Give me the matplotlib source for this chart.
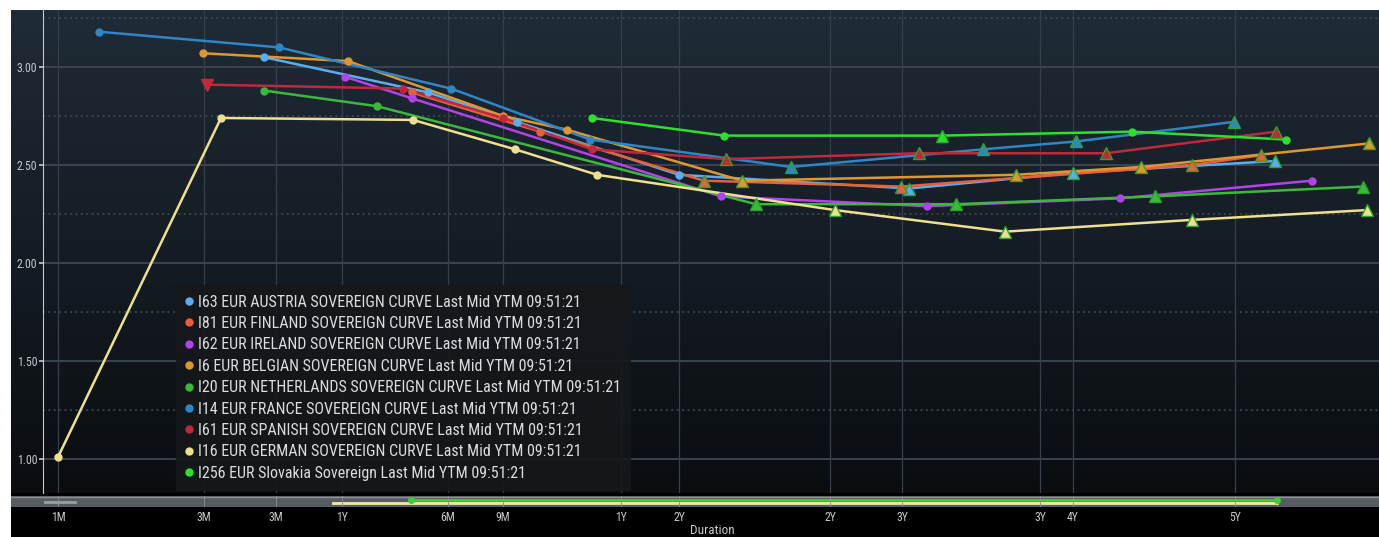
import numpy as np
import matplotlib
matplotlib.use("Agg")
import matplotlib.pyplot as plt
from matplotlib.lines import Line2D
from matplotlib.font_manager import FontProperties, fontManager

plt.rcParams['font.family'] = ['DejaVu Sans']

# duration axis positions (chart's own nonlinear duration scale) and yields
tick_pos = [58, 204, 276, 342, 448, 503, 621, 679, 830, 902, 1040, 1073, 1235]
tick_labels = ['1M', '3M', '3M', '1Y', '6M', '9M', '1Y', '2Y', '2Y', '3Y', '3Y', '4Y', '5Y']

austria_x = [264, 428, 517, 679, 909, 1073, 1275]
austria_y = [3.05, 2.87, 2.72, 2.45, 2.38, 2.46, 2.52]
finland_x = [412, 540, 704, 901, 1192, 1261]
finland_y = [2.87, 2.67, 2.42, 2.39, 2.50, 2.55]
ireland_x = [345, 412, 721, 927, 1120, 1312]
ireland_y = [2.95, 2.84, 2.34, 2.29, 2.33, 2.42]
belgian_x = [203, 348, 503, 567, 742, 1016, 1141, 1369]
belgian_y = [3.07, 3.03, 2.75, 2.68, 2.42, 2.45, 2.49, 2.61]
nl_x = [264, 377, 756, 956, 1155, 1363]
nl_y = [2.88, 2.80, 2.30, 2.30, 2.34, 2.39]
france_x = [99, 279, 451, 590, 791, 983, 1076, 1234]
france_y = [3.18, 3.10, 2.89, 2.63, 2.49, 2.58, 2.62, 2.72]
spanish_x = [207, 403, 503, 592, 726, 919, 1106, 1276]
spanish_y = [2.91, 2.89, 2.74, 2.58, 2.53, 2.56, 2.56, 2.67]
german_x = [58, 221, 413, 515, 597, 835, 1005, 1192, 1367]
german_y = [1.01, 2.74, 2.73, 2.58, 2.45, 2.27, 2.16, 2.22, 2.27]
slovakia_x = [592, 724, 942, 1132, 1286]
slovakia_y = [2.74, 2.65, 2.65, 2.67, 2.63]

series = [
    ('I63 EUR AUSTRIA SOVEREIGN CURVE Last Mid YTM 09:51:21', austria_x, austria_y, '#5aaef0'),
    ('I81 EUR FINLAND SOVEREIGN CURVE Last Mid YTM 09:51:21', finland_x, finland_y, '#e8603c'),
    ('I62 EUR IRELAND SOVEREIGN CURVE Last Mid YTM 09:51:21', ireland_x, ireland_y, '#b044e8'),
    ('I6 EUR BELGIAN SOVEREIGN CURVE Last Mid YTM 09:51:21', belgian_x, belgian_y, '#e0982e'),
    ('I20 EUR NETHERLANDS SOVEREIGN CURVE Last Mid YTM 09:51:21', nl_x, nl_y, '#3cb83c'),
    ('I14 EUR FRANCE SOVEREIGN CURVE Last Mid YTM 09:51:21', france_x, france_y, '#2f86c6'),
    ('I61 EUR SPANISH SOVEREIGN CURVE Last Mid YTM 09:51:21', spanish_x, spanish_y, '#c0283c'),
    ('I16 EUR GERMAN SOVEREIGN CURVE Last Mid YTM 09:51:21', german_x, german_y, '#eee08e'),
    ('I256 EUR Slovakia Sovereign Last Mid YTM 09:51:21', slovakia_x, slovakia_y, '#2ee02e'),
]

# range navigator under the chart
nav_yellow = (333, 1277)
nav_green = (411, 1277)

W, H = 1379, 537

# a narrow face if one is installed
names = {f.name for f in fontManager.ttflist}
narrow = None
for cand in ['Liberation Sans Narrow', 'DejaVu Sans Condensed', 'Roboto Condensed', 'Open Sans Condensed']:
    if cand in names:
        narrow = cand
        break
condensed = [f for f in fontManager.ttflist if f.name == 'DejaVu Sans' and f.stretch == 'condensed']
if narrow:
    leg_font = FontProperties(family=narrow, size=11.5)
    tick_font = FontProperties(family=narrow, size=8.5)
    dur_font = FontProperties(family=narrow, size=9.5)
elif condensed:
    leg_font = FontProperties(family='DejaVu Sans', stretch='condensed', size=11)
    tick_font = FontProperties(family='DejaVu Sans', stretch='condensed', size=8)
    dur_font = FontProperties(family='DejaVu Sans', stretch='condensed', size=9)
else:
    leg_font = FontProperties(family='DejaVu Sans', size=9.8)
    tick_font = FontProperties(family='DejaVu Sans', size=7)
    dur_font = FontProperties(family='DejaVu Sans', size=8)


def box(l, t, r, b):
    return [l / W, 1 - b / H, (r - l) / W, (b - t) / H]


fig = plt.figure(figsize=(13.79, 5.37), dpi=100, facecolor='white')

bg = fig.add_axes(box(11, 10, 1379, 537))
bg.set_facecolor('black')
bg.set_xticks([])
bg.set_yticks([])
for s in bg.spines.values():
    s.set_visible(False)

ax = fig.add_axes(box(11, 10, 1379, 493))
xmin, xmax = 11, 1379
ymax = 3.0 + (67 - 10) / 196
ymin = 3.0 - (493 - 67) / 196
ax.set_xlim(xmin, xmax)
ax.set_ylim(ymin, ymax)

grad = np.linspace(0, 1, 256).reshape(-1, 1)
top = np.array([0x1f, 0x2b, 0x37]) / 255
bot = np.array([0x0a, 0x0d, 0x10]) / 255
img = top * (1 - grad[..., None]) + bot * grad[..., None]
ax.imshow(img, extent=[0, 1, 0, 1], transform=ax.transAxes, aspect='auto', zorder=0)

# grid
for v in [1.0, 1.5, 2.0, 2.5, 3.0]:
    ax.plot([43, xmax], [v, v], color='#3d4852', lw=1.3, zorder=1)
for v in [1.25, 1.75, 2.25, 2.75, 3.25]:
    ax.plot([43, xmax], [v, v], color='#3d4852', lw=1.3, ls=(0, (1, 2)), zorder=1)
for p in tick_pos:
    ax.axvline(p, color='#36404a', lw=0.9, zorder=1)

ax.spines['left'].set_position(('data', 43))
ax.spines['left'].set_color('#c8c8c8')
for k in ['top', 'right', 'bottom']:
    ax.spines[k].set_visible(False)
ax.set_yticks([1.0, 1.5, 2.0, 2.5, 3.0])
ax.set_yticklabels(['1.00', '1.50', '2.00', '2.50', '3.00'], fontproperties=tick_font)
ax.tick_params(axis='y', colors='#c8c8c8', length=3, width=1.2, pad=1)
ax.set_xticks([])

for label, xs, ys, col in series:
    ax.plot(xs, ys, color=col, lw=1.8, zorder=3)
    for i, (x, y) in enumerate(zip(xs, ys)):
        if col == '#c0283c' and i == 0:
            ax.plot(x, y, marker='v', ms=8, color=col, mec=col, zorder=4)
        elif x > 690 and col not in ('#2ee02e', '#b044e8') or (col == '#2ee02e' and i == 2):
            ax.plot(x, y, marker='^', ms=8, color=col, mec='#2aa52a', mew=1.0, zorder=4)
        else:
            ax.plot(x, y, marker='o', ms=5, color=col, zorder=4)

handles = [Line2D([], [], ls='none', marker='o', ms=5, color=c) for _, _, _, c in series]
labels = [s[0] for s in series]
leg = ax.legend(handles, labels, loc='upper left',
                bbox_to_anchor=((176 - xmin) / (xmax - xmin), (493 - 285) / (493 - 10)),
                frameon=True, fancybox=False, facecolor='#15181b', edgecolor='#15181b',
                framealpha=0.92, prop=leg_font, labelcolor='#dcdcdc',
                handlelength=0.4, handletextpad=0.35, labelspacing=0.4, borderpad=0.6,
                borderaxespad=0)
leg.set_zorder(6)

# navigator
nav = fig.add_axes(box(11, 496, 1379, 507))
nav.set_xlim(xmin, xmax)
nav.set_ylim(0, 1)
nav.set_facecolor('#565c62')
for s in nav.spines.values():
    s.set_visible(False)
nav.axhline(0.95, color='#8a9096', lw=1)
nav.plot([45, 75], [0.5, 0.5], color='#9aa0a6', lw=2)
nav.plot(nav_yellow, [0.35, 0.35], color='#f2eca0', lw=2)
nav.plot(nav_green, [0.65, 0.65], color='#39d039', lw=2)
nav.plot([nav_green[0], nav_green[1]], [0.6, 0.6], ls='none', marker='o', ms=4, color='#39d039')
nav.set_yticks([])
nav.set_xticks(tick_pos)
nav.set_xticklabels(tick_labels, fontproperties=tick_font)
nav.tick_params(axis='x', colors='#c8c8c8', length=0, pad=3)
for p in tick_pos:
    nav.axvline(p, color='#8a9096', lw=0.6)

fig.text(712 / W, 1 - 531 / H, 'Duration', color='#c8c8c8', fontproperties=dur_font,
         ha='center', va='center')

fig.savefig('out.png', dpi=100, facecolor='white')
